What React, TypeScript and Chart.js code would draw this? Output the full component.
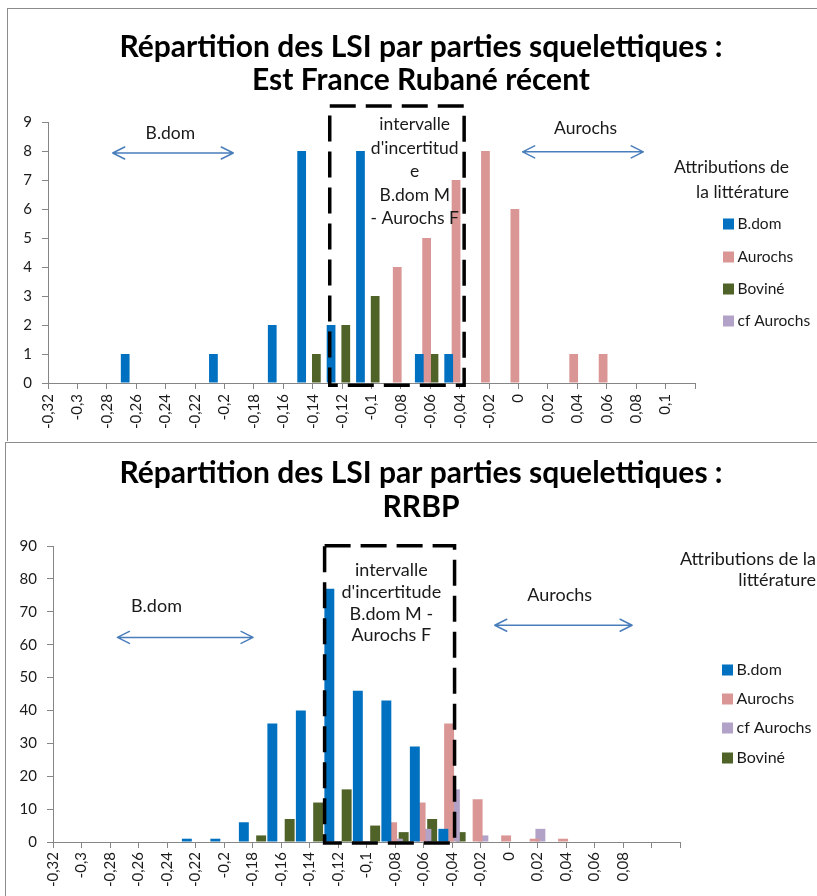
import React, { useEffect, useRef } from 'react';
import { Chart, registerables } from 'chart.js';

Chart.register(...registerables);

const FONT = 'Lato, "Open Sans", sans-serif';
const TEXT = '#1a1a1a';
const AXIS = '#868686';

// ---------- Top chart: Est France Rubané récent ----------
const topCategories = ['-0,32', '-0,3', '-0,28', '-0,26', '-0,24', '-0,22', '-0,2', '-0,18', '-0,16', '-0,14', '-0,12', '-0,1', '-0,08', '-0,06', '-0,04', '-0,02', '0', '0,02', '0,04', '0,06', '0,08', '0,1', ''];
const topBdom = [0, 0, 0, 1, 0, 0, 1, 0, 2, 8, 2, 8, 0, 1, 1, 0, 0, 0, 0, 0, 0, 0, 0];
const topAurochs = [0, 0, 0, 0, 0, 0, 0, 0, 0, 0, 0, 0, 4, 5, 7, 8, 6, 0, 1, 1, 0, 0, 0];
const topBovine = [0, 0, 0, 0, 0, 0, 0, 0, 0, 1, 2, 3, 0, 1, 0, 0, 0, 0, 0, 0, 0, 0, 0];
const topCfAurochs = [0, 0, 0, 0, 0, 0, 0, 0, 0, 0, 0, 0, 0, 0, 0, 0, 0, 0, 0, 0, 0, 0, 0];
const topTitle = ['Répartition des LSI par parties squelettiques :', 'Est France Rubané récent'];
const topBoxText = ['intervalle', "d'incertitud", 'e', 'B.dom M', '- Aurochs F'];

// ---------- Bottom chart: RRBP ----------
const botCategories = ['-0,32', '-0,3', '-0,28', '-0,26', '-0,24', '-0,22', '-0,2', '-0,18', '-0,16', '-0,14', '-0,12', '-0,1', '-0,08', '-0,06', '-0,04', '-0,02', '0', '0,02', '0,04', '0,06', '0,08', '', ''];
const botBdom = [0, 0, 0, 0, 0, 1, 1, 6, 36, 40, 77, 46, 43, 29, 4, 0, 0, 0, 0, 0, 0, 0, 0];
const botAurochs = [0, 0, 0, 0, 0, 0, 0, 0, 0, 0, 0, 0, 6, 12, 36, 13, 2, 1, 1, 0, 0, 0, 0];
const botCfAurochs = [0, 0, 0, 0, 0, 0, 0, 0, 0, 0, 0, 0, 1, 4, 16, 2, 0, 4, 0, 0, 0, 0, 0];
const botBovine = [0, 0, 0, 0, 0, 0, 0, 2, 7, 12, 16, 5, 3, 7, 3, 0, 0, 0, 0, 0, 0, 0, 0];
const botTitle = ['Répartition des LSI par parties squelettiques :', 'RRBP'];
const botBoxText = ['intervalle', "d'incertitude", 'B.dom M -', 'Aurochs F'];

const legendTitle1 = ['Attributions de', 'la littérature'];
const legendTitle2 = ['Attributions de la', 'littérature'];

const C_BDOM = '#0070C0';
const C_AUR = '#D99694';
const C_BOV = '#4F6228';
const C_CF = '#B3A2C7';

type Decor = {
  border: { x: number; y: number };
  title: string[];
  titleX: number;
  titleY: number[];
  titleSize: number;
  annotSize: number;
  bdomLabel: { i: number; v: number };
  bdomArrow: { i1: number; i2: number; v: number };
  aurLabel: { i: number; v: number };
  aurArrow: { i1: number; i2: number; v: number };
  box: { i1: number; i2: number; v1: number; v2: number };
  boxText: string[];
  boxTextPos: { i: number; v: number; step: number };
  legendTitle: string[];
  legendTitleSize: number;
  legendTitleRight: number;
  legendTitleY: number[];
  legendX: number;
  legendY: number[];
  legendSize: number;
};

function drawArrow(ctx: CanvasRenderingContext2D, x1: number, x2: number, y: number) {
  ctx.save();
  ctx.strokeStyle = '#4A7EBB';
  ctx.lineWidth = 1.5;
  ctx.lineCap = 'round';
  ctx.lineJoin = 'round';
  ctx.beginPath();
  ctx.moveTo(x1, y);
  ctx.lineTo(x2, y);
  const hl = 12, hw = 6;
  ctx.moveTo(x1 + hl, y - hw);
  ctx.lineTo(x1, y);
  ctx.lineTo(x1 + hl, y + hw);
  ctx.moveTo(x2 - hl, y - hw);
  ctx.lineTo(x2, y);
  ctx.lineTo(x2 - hl, y + hw);
  ctx.stroke();
  ctx.restore();
}

function makeDecor(d: Decor) {
  return {
    id: 'decor',
    afterDraw(chart: any) {
      const ctx: CanvasRenderingContext2D = chart.ctx;
      const xs = chart.scales.x;
      const ys = chart.scales.y;
      const px = (i: number) => xs.getPixelForValue(i);
      const py = (v: number) => ys.getPixelForValue(v);
      ctx.save();
      // frame
      ctx.strokeStyle = '#8c8c8c';
      ctx.lineWidth = 1;
      ctx.strokeRect(d.border.x, d.border.y, 2000, 2000);
      // title
      ctx.fillStyle = '#000';
      ctx.textAlign = 'center';
      ctx.textBaseline = 'middle';
      ctx.font = `bold ${d.titleSize}px ${FONT}`;
      d.title.forEach((t, k) => ctx.fillText(t, d.titleX, d.titleY[k]));
      // annotation labels
      ctx.fillStyle = TEXT;
      ctx.font = `${d.annotSize}px ${FONT}`;
      ctx.fillText('B.dom', px(d.bdomLabel.i), py(d.bdomLabel.v));
      ctx.fillText('Aurochs', px(d.aurLabel.i), py(d.aurLabel.v));
      drawArrow(ctx, px(d.bdomArrow.i1), px(d.bdomArrow.i2), py(d.bdomArrow.v));
      drawArrow(ctx, px(d.aurArrow.i1), px(d.aurArrow.i2), py(d.aurArrow.v));
      // box text
      ctx.fillStyle = TEXT;
      ctx.font = `${d.annotSize}px ${FONT}`;
      const bx = px(d.boxTextPos.i);
      const by = py(d.boxTextPos.v);
      d.boxText.forEach((t, k) => ctx.fillText(t, bx, by + k * d.boxTextPos.step));
      // dashed box
      ctx.save();
      ctx.strokeStyle = '#000';
      ctx.lineWidth = 3.5;
      ctx.setLineDash([26, 10]);
      const x1 = px(d.box.i1), x2 = px(d.box.i2), y1 = py(d.box.v1), y2 = py(d.box.v2);
      ctx.strokeRect(x1, y1, x2 - x1, y2 - y1);
      ctx.restore();
      // legend
      ctx.font = `${d.legendTitleSize}px ${FONT}`;
      ctx.textAlign = 'right';
      ctx.fillStyle = TEXT;
      d.legendTitle.forEach((t, k) => ctx.fillText(t, d.legendTitleRight, d.legendTitleY[k]));
      ctx.textAlign = 'left';
      ctx.font = `${d.legendSize}px ${FONT}`;
      chart.data.datasets.forEach((ds: any, k: number) => {
        const y = d.legendY[k];
        ctx.fillStyle = ds.backgroundColor;
        ctx.fillRect(d.legendX, y - 5.5, 11, 11);
        ctx.fillStyle = TEXT;
        ctx.fillText(ds.label, d.legendX + 14.5, y);
      });
      ctx.restore();
    },
  };
}

function makeConfig(
  labels: string[],
  datasets: any[],
  yMax: number,
  yStep: number,
  area: { left: number; right: number; top: number; bottom: number; width: number; height: number },
  catPct: number,
  barPct: number,
  xPad: number,
  decor: Decor,
) {
  const tickFont = { family: FONT, size: 15 };
  return {
    type: 'bar' as const,
    data: {
      labels,
      datasets: datasets.map((ds) => ({
        ...ds,
        borderWidth: 0,
        categoryPercentage: catPct,
        barPercentage: barPct,
      })),
    },
    options: {
      responsive: false,
      animation: false,
      devicePixelRatio: 1,
      layout: {
        padding: { left: 0, top: area.top, right: area.width - area.right, bottom: 0 },
      },
      plugins: {
        legend: { display: false },
        title: { display: false },
        tooltip: { enabled: false },
      },
      scales: {
        x: {
          type: 'category',
          offset: false,
          grid: { offset: false, drawOnChartArea: false, drawTicks: true, tickLength: 6, color: AXIS },
          border: { display: true, color: AXIS },
          ticks: { autoSkip: false, minRotation: 90, maxRotation: 90, padding: xPad, font: tickFont, color: TEXT },
          afterFit: (s: any) => {
            s.height = area.height - area.bottom;
            s.paddingLeft = 0;
            s.paddingRight = 0;
          },
        },
        y: {
          min: 0,
          max: yMax,
          ticks: { stepSize: yStep, font: tickFont, color: TEXT, padding: 10 },
          grid: { drawOnChartArea: false, drawTicks: true, tickLength: 6, color: AXIS },
          border: { display: true, color: AXIS },
          afterFit: (s: any) => {
            s.width = area.left;
          },
        },
      },
    },
    plugins: [makeDecor(decor)],
  };
}

const W = 817;
const H1 = 441;
const H2 = 455;

const topConfig = makeConfig(
  topCategories,
  [
    { label: 'B.dom', data: topBdom, backgroundColor: C_BDOM },
    { label: 'Aurochs', data: topAurochs, backgroundColor: C_AUR },
    { label: 'Boviné', data: topBovine, backgroundColor: C_BOV },
    { label: 'cf Aurochs', data: topCfAurochs, backgroundColor: C_CF },
  ],
  9,
  1,
  { left: 48, right: 695, top: 122, bottom: 383, width: W, height: H1 },
  1.0,
  1.19,
  5,
  {
    border: { x: 7.5, y: 8.5 },
    title: topTitle,
    titleX: 421,
    titleY: [47, 80],
    titleSize: 30,
    annotSize: 17.5,
    bdomLabel: { i: 4.16, v: 8.6 },
    bdomArrow: { i1: 2.2, i2: 6.3, v: 7.93 },
    aurLabel: { i: 18.28, v: 8.77 },
    aurArrow: { i1: 16.14, i2: 20.24, v: 7.97 },
    box: { i1: 9.58, i2: 14.15, v1: 9.55, v2: -0.08 },
    boxText: topBoxText,
    boxTextPos: { i: 12.47, v: 8.92, step: 23.6 },
    legendTitle: legendTitle1,
    legendTitleSize: 17.5,
    legendTitleRight: 789,
    legendTitleY: [167, 192],
    legendX: 723,
    legendY: [224, 257, 289, 321],
    legendSize: 15.5,
  },
);

const botConfig = makeConfig(
  botCategories,
  [
    { label: 'B.dom', data: botBdom, backgroundColor: C_BDOM },
    { label: 'Aurochs', data: botAurochs, backgroundColor: C_AUR },
    { label: 'cf Aurochs', data: botCfAurochs, backgroundColor: C_CF },
    { label: 'Boviné', data: botBovine, backgroundColor: C_BOV },
  ],
  90,
  10,
  { left: 53, right: 680, top: 105, bottom: 401, width: W, height: H2 },
  0.81,
  1.72,
  4,
  {
    border: { x: 5.5, y: 1.5 },
    title: botTitle,
    titleX: 421,
    titleY: [32, 66],
    titleSize: 30,
    annotSize: 18,
    bdomLabel: { i: 3.63, v: 71.6 },
    bdomArrow: { i1: 2.26, i2: 7.02, v: 62.2 },
    aurLabel: { i: 17.78, v: 74.9 },
    aurArrow: { i1: 15.5, i2: 20.32, v: 65.9 },
    box: { i1: 9.53, i2: 14.09, v1: 90.1, v2: -0.3 },
    boxText: botBoxText,
    boxTextPos: { i: 11.87, v: 82.6, step: 21.7 },
    legendTitle: legendTitle2,
    legendTitleSize: 18,
    legendTitleRight: 816,
    legendTitleY: [118, 139],
    legendX: 722,
    legendY: [229, 258, 287, 317],
    legendSize: 16,
  },
);

function ChartCanvas({ config, width, height, top }: { config: any; width: number; height: number; top: number }) {
  const ref = useRef<HTMLCanvasElement>(null);
  useEffect(() => {
    if (!ref.current) return;
    const chart = new Chart(ref.current, config);
    return () => chart.destroy();
  }, [config]);
  return (
    <canvas
      ref={ref}
      width={width}
      height={height}
      style={{ position: 'absolute', left: 0, top, width, height, display: 'block' }}
    />
  );
}

export default function App() {
  return (
    <div style={{ position: 'absolute', left: 0, top: 0, width: W, height: H1 + H2, background: '#fff', overflow: 'hidden' }}>
      <ChartCanvas config={topConfig} width={W} height={H1} top={0} />
      <ChartCanvas config={botConfig} width={W} height={H2} top={H1} />
    </div>
  );
}
